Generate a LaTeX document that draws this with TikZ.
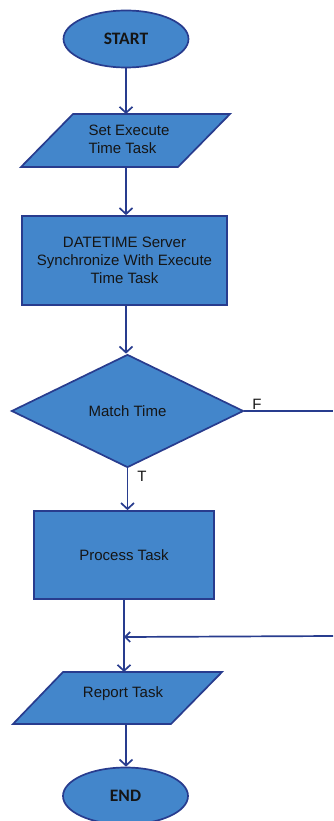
\documentclass[tikz,border=0pt]{standalone}
\usepackage{fontspec}
\setmainfont{Liberation Sans}
\newfontfamily\calib{Carlito}
\usetikzlibrary{shapes.geometric,arrows.meta}
\definecolor{boxfill}{HTML}{4386CB}
\definecolor{boxline}{HTML}{283C8E}
\definecolor{txt}{HTML}{151515}
\begin{document}
\begin{tikzpicture}[x=1pt,y=-1pt,
  shapebox/.style={draw=boxline,fill=boxfill,line width=1.7pt},
  lbl/.style={font=\fontsize{15}{18}\selectfont,text=txt},
  termtxt/.style={font=\calib\bfseries\fontsize{17.5}{18}\selectfont,text=txt},
  wire/.style={draw=boxline,line width=1.7pt},
  conn/.style={wire,-{Straight Barb[length=6pt,width=13pt]}},
  connsmall/.style={wire,-{Straight Barb[length=5pt,width=10pt]}}
]
\useasboundingbox (0,0) rectangle (333,821);
% START
\node[shapebox,ellipse,minimum width=125,minimum height=57,inner sep=0,termtxt] (start) at (126,39) {START};
% parallelogram 1
\draw[shapebox] (73,114) -- (230,114) -- (178,167) -- (21,167) -- cycle;
\coordinate (p1top) at (126,114);
\coordinate (p1bot) at (126,167);
\node[lbl,align=left,anchor=west] (settxt) at (85,139) {Set Execute\\Time Task};
% sync box
\node[shapebox,rectangle,minimum width=205,minimum height=89,inner sep=0,lbl,align=center] (sync) at (124.5,260.5) {DATETIME Server\\Synchronize With Execute\\Time Task};
% decision
\node[shapebox,diamond,minimum width=232,minimum height=113,inner sep=0,lbl] (match) at (127.5,411) {Match Time};
\coordinate (rightF) at (333,411);
\node[lbl,anchor=center] (flbl) at (257,404) {F};
\node[lbl,anchor=center] (tlbl) at (142,476) {T};
% process
\node[shapebox,rectangle,minimum width=180,minimum height=88,inner sep=0,lbl] (proc) at (124,555) {Process Task};
\coordinate (merge) at (124,637);
\coordinate (rightM) at (333,636);
% parallelogram 2
\draw[shapebox] (63,672) -- (222,672) -- (171,724) -- (13,724) -- cycle;
\coordinate (p2top) at (124,672);
\coordinate (p2bot) at (126,724);
\node[lbl] (reptxt) at (123,694) {Report Task};
% END
\node[shapebox,ellipse,minimum width=125,minimum height=57,inner sep=0,termtxt] (endn) at (125.5,796) {END};
% connectors
\draw[conn] (start.south) -- (p1top);
\draw[conn] (p1bot) -- (p1bot |- sync.north);
\draw[conn] (sync.south -| p1bot) -- (p1bot |- match.north);
\draw[wire] (match.east) -- (rightF);
\draw[conn] (match.south) -- (match.south |- proc.north);
\draw[conn] (proc.south) -- (p2top);
\draw[connsmall] (rightM) -- (merge);
\draw[conn] (p2bot) -- (p2bot |- endn.north);
\end{tikzpicture}
\end{document}
